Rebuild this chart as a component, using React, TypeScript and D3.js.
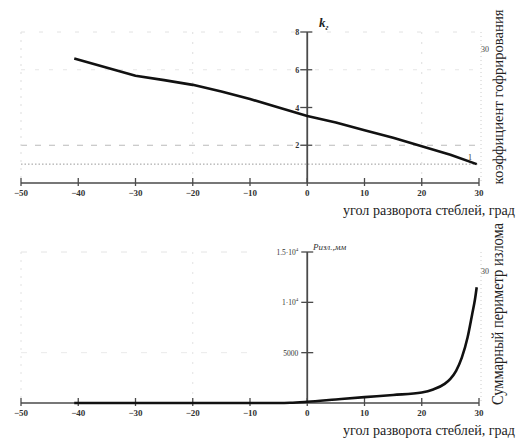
import React from "react";
import * as d3 from "d3";

const xTicks = [-50, -40, -30, -20, -10, 0, 10, 20, 30];
const xTickLabels = ["−50", "−40", "−30", "−20", "−10", "0", "10", "20", "30"];

const topX = [-40.7, -30, -25, -20, -15, -10, -5, 0, 5, 10, 15, 20, 25, 29.6];
const topK = [6.6, 5.68, 5.45, 5.2, 4.85, 4.45, 4.0, 3.55, 3.2, 2.8, 2.4, 1.95, 1.5, 1.0];
const topYTicks = [2, 4, 6, 8];
const topYTickLabels = ["2", "4", "6", "8"];

const botX = [-40.7, -30, -20, -10, -5, -3, 0, 5, 10, 15, 20, 22, 24, 25, 26, 27, 28, 28.8, 29.3, 29.6];
const botP = [0, 0, 0, 0, 0, 20, 120, 350, 580, 800, 1050, 1350, 1900, 2400, 3200, 4500, 6500, 8800, 10300, 11500];
const botYTicks = [5000, 10000, 15000];

const xTitle = "угол разворота стеблей, град";
const topRightTitle = "коэффициент гофрирования";
const botRightTitle = "Суммарный периметр излома";

const FONT = "'Liberation Serif', 'DejaVu Serif', serif";
const AXIS = "#4a4a4a";

export default function App() {
  const x = d3.scaleLinear().domain([-50, 30]).range([21, 479]);
  const yTop = d3.scaleLinear().domain([0, 8]).range([183, 32]);
  const yBot = d3.scaleLinear().domain([0, 15000]).range([403, 252]);

  const topLine = d3
    .line<number>()
    .x((_, i) => x(topX[i]))
    .y((d) => yTop(d))
    .curve(d3.curveLinear)(topK) as string;

  const botLine = d3
    .line<number>()
    .x((_, i) => x(botX[i]))
    .y((d) => yBot(d))
    .curve(d3.curveMonotoneX)(botP) as string;

  const xAxis = (y0: number, key: string) => (
    <g key={key}>
      <line x1={x(-50)} x2={x(30)} y1={y0} y2={y0} stroke={AXIS} strokeWidth={1.6} />
      {xTicks.map((t, i) => (
        <g key={t}>
          <line x1={x(t)} x2={x(t)} y1={y0 - 5} y2={y0 + 3} stroke={AXIS} strokeWidth={1.3} />
          <text
            x={x(t)}
            y={y0 + 13}
            fontSize={9}
            fontFamily={FONT}
            fontWeight="bold"
            textAnchor="middle"
            fill="#333"
          >
            {xTickLabels[i]}
          </text>
        </g>
      ))}
    </g>
  );

  return (
    <svg width={516} height={439} style={{ position: "absolute", left: 0, top: 0 }}>
      <rect width={516} height={439} fill="#fff" />

      {/* ---------- TOP CHART ---------- */}
      {/* faint grid */}
      <line x1={x(-50)} x2={x(30)} y1={yTop(2)} y2={yTop(2)} stroke="#bbb" strokeWidth={1} strokeDasharray="6 8" />
      <line x1={x(-50)} x2={x(30)} y1={yTop(1)} y2={yTop(1)} stroke="#999" strokeWidth={1} strokeDasharray="1.5 2" />
      <line x1={x(-50)} x2={x(-50)} y1={yTop(8)} y2={yTop(0)} stroke="#ddd" strokeWidth={1} strokeDasharray="2 6" />
      <line x1={x(-20)} x2={x(-20)} y1={yTop(8)} y2={yTop(0)} stroke="#ddd" strokeWidth={1} strokeDasharray="2 8" />
      <line x1={x(20)} x2={x(20)} y1={yTop(8)} y2={yTop(0)} stroke="#ddd" strokeWidth={1} strokeDasharray="2 8" />
      <line x1={x(30) + 2} x2={x(30) + 2} y1={yTop(8)} y2={yTop(0)} stroke="#ccc" strokeWidth={1} strokeDasharray="1 3" />
      <line x1={x(-50)} x2={x(30)} y1={yTop(8)} y2={yTop(8)} stroke="#e2e2e2" strokeWidth={1} strokeDasharray="4 14" />
      <line x1={x(-50)} x2={x(30)} y1={yTop(6)} y2={yTop(6)} stroke="#e6e6e6" strokeWidth={1} strokeDasharray="4 10" />

      {xAxis(yTop(0), "xa-top")}
      {/* y axis */}
      <line x1={x(0)} x2={x(0)} y1={yTop(8)} y2={yTop(0)} stroke={AXIS} strokeWidth={1.8} />
      {topYTicks.map((t, i) => (
        <g key={t}>
          <line x1={x(0) - 7} x2={x(0) + 5} y1={yTop(t)} y2={yTop(t)} stroke={AXIS} strokeWidth={1.3} />
          <text x={x(0) - 8} y={yTop(t) + 3} fontSize={8} fontFamily={FONT} fontWeight="bold" textAnchor="end" fill="#333">
            {topYTickLabels[i]}
          </text>
        </g>
      ))}
      <text x={319} y={27} fontSize={13} fontFamily={FONT} fontStyle="italic" fontWeight="bold" fill="#222">
        k
        <tspan fontSize={8} dy={3}>г</tspan>
      </text>
      <text x={470} y={160} fontSize={8} fontFamily={FONT} fill="#333" textAnchor="middle">1</text>
      <text x={485} y={52} fontSize={8} fontFamily={FONT} fill="#444" textAnchor="middle">30</text>

      <path d={topLine} fill="none" stroke="#111" strokeWidth={2.6} strokeLinejoin="round" />

      <text
        transform="translate(503,97) rotate(-90)"
        fontSize={15}
        fontFamily={FONT}
        textAnchor="middle"
        textLength={175}
        lengthAdjust="spacingAndGlyphs"
        fill="#222"
      >
        {topRightTitle}
      </text>
      <text x={515} y={215} fontSize={14} fontFamily={FONT} textAnchor="end" textLength={172} lengthAdjust="spacingAndGlyphs" fill="#222">
        {xTitle}
      </text>

      {/* ---------- BOTTOM CHART ---------- */}
      <line x1={x(-50)} x2={x(-50)} y1={yBot(15000)} y2={yBot(0)} stroke="#e2e2e2" strokeWidth={1} strokeDasharray="2 6" />
      <line x1={x(-20)} x2={x(-20)} y1={yBot(15000)} y2={yBot(0)} stroke="#e2e2e2" strokeWidth={1} strokeDasharray="2 8" />
      <line x1={x(30) + 2} x2={x(30) + 2} y1={yBot(15000)} y2={yBot(0)} stroke="#ccc" strokeWidth={1} strokeDasharray="1 3" />
      <line x1={x(-50)} x2={x(-10)} y1={yBot(15000)} y2={yBot(15000)} stroke="#e4e4e4" strokeWidth={1} strokeDasharray="6 14" />
      <line x1={x(-50)} x2={x(-10)} y1={yBot(5000)} y2={yBot(5000)} stroke="#eaeaea" strokeWidth={1} strokeDasharray="6 14" />

      {xAxis(yBot(0), "xa-bot")}
      <line x1={x(0)} x2={x(0)} y1={yBot(15000)} y2={yBot(0)} stroke={AXIS} strokeWidth={1.8} />
      {botYTicks.map((t) => (
        <g key={t}>
          <line x1={x(0) - 6} x2={x(0) + 6} y1={yBot(t)} y2={yBot(t)} stroke={AXIS} strokeWidth={1.3} />
          <text x={x(0) - 9} y={yBot(t) + 3} fontSize={7.5} fontFamily={FONT} textAnchor="end" fill="#333">
            {t === 5000 ? "5000" : (
              <>
                {t === 15000 ? "1.5·10" : "1·10"}
                <tspan fontSize={5} dy={-4}>4</tspan>
              </>
            )}
          </text>
        </g>
      ))}
      <text x={313} y={250} fontSize={9} fontFamily={FONT} fontStyle="italic" fill="#333">
        Pизл.,мм
      </text>
      <text x={485} y={274} fontSize={8} fontFamily={FONT} fill="#444" textAnchor="middle">30</text>

      <path d={botLine} fill="none" stroke="#111" strokeWidth={2.6} strokeLinejoin="round" />

      <text
        transform="translate(503,314) rotate(-90)"
        fontSize={16}
        fontFamily={FONT}
        textAnchor="middle"
        textLength={182}
        lengthAdjust="spacingAndGlyphs"
        fill="#222"
      >
        {botRightTitle}
      </text>
      <text x={515} y={435} fontSize={14} fontFamily={FONT} textAnchor="end" textLength={172} lengthAdjust="spacingAndGlyphs" fill="#222">
        {xTitle}
      </text>
    </svg>
  );
}
